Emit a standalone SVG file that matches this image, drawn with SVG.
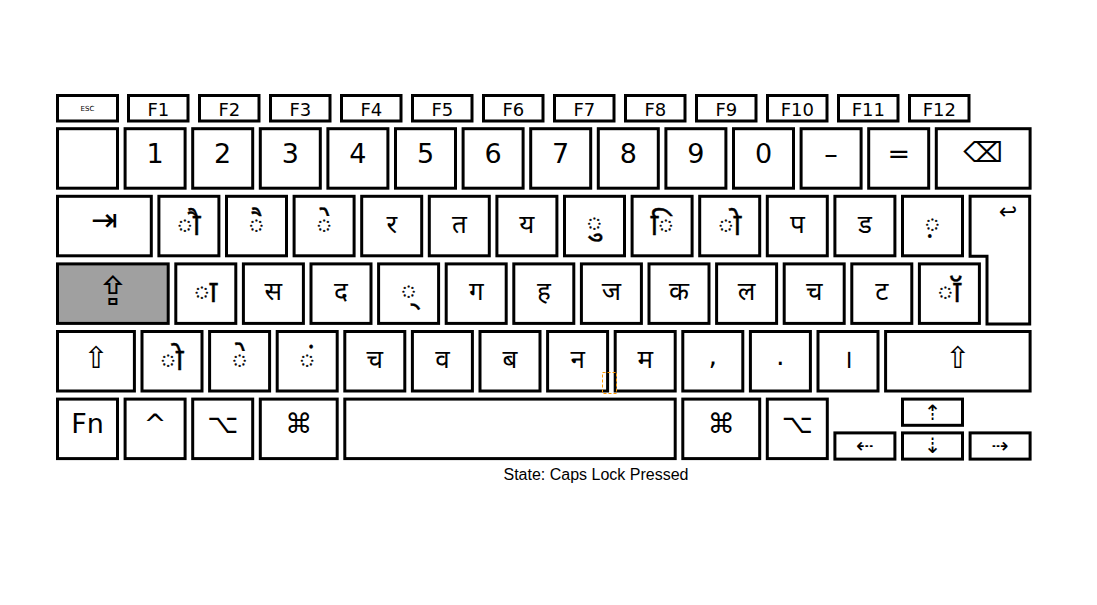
<svg xmlns="http://www.w3.org/2000/svg" width="1097" height="605" viewBox="0 0 1097 605">
<style>
.k{fill:#fff;stroke:#000;stroke-width:3}
.caps{fill:#a0a0a0}
.l{font-family:"DejaVu Sans",sans-serif;font-size:27px;text-anchor:middle;fill:#000}
.f{font-family:"DejaVu Sans",sans-serif;font-size:18px;text-anchor:middle;fill:#000}
.d{font-family:"Noto Sans Devanagari","Lohit Devanagari","FreeSans","DejaVu Sans",sans-serif;font-size:26px;text-anchor:middle;fill:#000}
.m{font-family:"Noto Sans Devanagari","Lohit Devanagari","FreeSans","DejaVu Sans",sans-serif;font-size:30px;text-anchor:middle;fill:#000;stroke:#000;stroke-width:0.4}
.i{font-family:"DejaVu Sans",sans-serif;font-size:30px;text-anchor:middle;fill:#000}
.a{font-family:"DejaVu Sans",sans-serif;font-size:21px;text-anchor:middle;fill:#000}
.s{font-family:"Liberation Sans",Arial,sans-serif;font-size:16px;text-anchor:middle;fill:#000}
</style>
<rect width="1097" height="605" fill="#fff"/>
<g id="fnrow">
<g id="k-esc"><rect class="k" x="57.5" y="95.5" width="60" height="25.5"/><text x="87.5" y="111" style="font-family:'DejaVu Sans',sans-serif;font-size:7px;text-anchor:middle">ESC</text></g>
<g id="k-f1"><rect class="k" x="128.5" y="95.5" width="59.5" height="25.5"/><text class="f" x="158.3" y="116">F1</text></g>
<g id="k-f2"><rect class="k" x="199.5" y="95.5" width="59.5" height="25.5"/><text class="f" x="229.3" y="116">F2</text></g>
<g id="k-f3"><rect class="k" x="270.5" y="95.5" width="59.5" height="25.5"/><text class="f" x="300.3" y="116">F3</text></g>
<g id="k-f4"><rect class="k" x="341.5" y="95.5" width="59.5" height="25.5"/><text class="f" x="371.3" y="116">F4</text></g>
<g id="k-f5"><rect class="k" x="412.5" y="95.5" width="59.5" height="25.5"/><text class="f" x="442.3" y="116">F5</text></g>
<g id="k-f6"><rect class="k" x="483.5" y="95.5" width="59.5" height="25.5"/><text class="f" x="513.3" y="116">F6</text></g>
<g id="k-f7"><rect class="k" x="554.5" y="95.5" width="59.5" height="25.5"/><text class="f" x="584.3" y="116">F7</text></g>
<g id="k-f8"><rect class="k" x="625.5" y="95.5" width="59.5" height="25.5"/><text class="f" x="655.3" y="116">F8</text></g>
<g id="k-f9"><rect class="k" x="696.5" y="95.5" width="59.5" height="25.5"/><text class="f" x="726.3" y="116">F9</text></g>
<g id="k-f10"><rect class="k" x="767.5" y="95.5" width="59.5" height="25.5"/><text class="f" x="797.3" y="116">F10</text></g>
<g id="k-f11"><rect class="k" x="838.5" y="95.5" width="59.5" height="25.5"/><text class="f" x="868.3" y="116">F11</text></g>
<g id="k-f12"><rect class="k" x="909.5" y="95.5" width="59.5" height="25.5"/><text class="f" x="939.3" y="116">F12</text></g>
</g>
<g id="row1">
<g id="k-grave"><rect class="k" x="57.5" y="128.7" width="60" height="59.5"/></g>
<g id="k-1"><rect class="k" x="125.1" y="128.7" width="60" height="59.5"/><text class="l" x="155.1" y="163">1</text></g>
<g id="k-2"><rect class="k" x="192.7" y="128.7" width="60" height="59.5"/><text class="l" x="222.7" y="163">2</text></g>
<g id="k-3"><rect class="k" x="260.3" y="128.7" width="60" height="59.5"/><text class="l" x="290.3" y="163">3</text></g>
<g id="k-4"><rect class="k" x="327.9" y="128.7" width="60" height="59.5"/><text class="l" x="357.9" y="163">4</text></g>
<g id="k-5"><rect class="k" x="395.5" y="128.7" width="60" height="59.5"/><text class="l" x="425.5" y="163">5</text></g>
<g id="k-6"><rect class="k" x="463.1" y="128.7" width="60" height="59.5"/><text class="l" x="493.1" y="163">6</text></g>
<g id="k-7"><rect class="k" x="530.7" y="128.7" width="60" height="59.5"/><text class="l" x="560.7" y="163">7</text></g>
<g id="k-8"><rect class="k" x="598.3" y="128.7" width="60" height="59.5"/><text class="l" x="628.3" y="163">8</text></g>
<g id="k-9"><rect class="k" x="665.9" y="128.7" width="60" height="59.5"/><text class="l" x="695.9" y="163">9</text></g>
<g id="k-0"><rect class="k" x="733.5" y="128.7" width="60" height="59.5"/><text class="l" x="763.5" y="163">0</text></g>
<g id="k-minus"><rect class="k" x="801.1" y="128.7" width="60" height="59.5"/><text class="l" x="831.1" y="163">–</text></g>
<g id="k-equal"><rect class="k" x="868.7" y="128.7" width="60" height="59.5"/><text class="l" x="898.7" y="163">=</text></g>
<g id="k-bksp"><rect class="k" x="936.3" y="128.7" width="93.8" height="59.5"/><text class="i" x="983.2" y="162" style="font-size:28px">⌫</text></g>
</g>
<g id="row2">
<g id="k-tab"><rect class="k" x="57.5" y="196.3" width="93.8" height="59.5"/><text class="i" x="104.4" y="231" style="font-size:32px">⇥</text></g>
<g id="k-q"><rect class="k" x="158.9" y="196.3" width="60" height="59.5"/><text class="m" x="188.9" y="235">ौ</text></g>
<g id="k-w"><rect class="k" x="226.5" y="196.3" width="60" height="59.5"/><text class="m" x="256.5" y="235">ै</text></g>
<g id="k-e"><rect class="k" x="294.1" y="196.3" width="60" height="59.5"/><text class="m" x="324.1" y="235">े</text></g>
<g id="k-r"><rect class="k" x="361.7" y="196.3" width="60" height="59.5"/><text class="d" x="391.7" y="233">र</text></g>
<g id="k-t"><rect class="k" x="429.3" y="196.3" width="60" height="59.5"/><text class="d" x="459.3" y="233">त</text></g>
<g id="k-y"><rect class="k" x="496.9" y="196.3" width="60" height="59.5"/><text class="d" x="526.9" y="233">य</text></g>
<g id="k-u"><rect class="k" x="564.5" y="196.3" width="60" height="59.5"/><text class="m" x="594.5" y="233">ु</text></g>
<g id="k-i"><rect class="k" x="632.1" y="196.3" width="60" height="59.5"/><text class="m" x="662.1" y="235">ि</text></g>
<g id="k-o"><rect class="k" x="699.7" y="196.3" width="60" height="59.5"/><text class="m" x="729.7" y="235">ो</text></g>
<g id="k-p"><rect class="k" x="767.3" y="196.3" width="60" height="59.5"/><text class="d" x="797.3" y="233">प</text></g>
<g id="k-lbr"><rect class="k" x="834.9" y="196.3" width="60" height="59.5"/><text class="d" x="864.9" y="233">ड</text></g>
<g id="k-rbr"><rect class="k" x="902.5" y="196.3" width="60" height="59.5"/><text class="m" x="932.5" y="234">़</text></g>
<g id="k-enter"><path class="k" d="M970.1,196.3 H1029.7 V323.9 H987 V256.3 H970.1 Z"/><text x="1008" y="219" style="font-family:'DejaVu Sans',sans-serif;font-size:22px;text-anchor:middle">↩</text></g>
</g>
<g id="row3">
<g id="k-caps"><rect class="k caps" x="57.5" y="263.9" width="110.7" height="59.5"/><text class="i" x="112.9" y="305" style="font-size:40px">⇪</text></g>
<g id="k-a"><rect class="k" x="175.8" y="263.9" width="60" height="59.5"/><text class="m" x="205.8" y="302">ा</text></g>
<g id="k-s"><rect class="k" x="243.4" y="263.9" width="60" height="59.5"/><text class="d" x="273.4" y="300">स</text></g>
<g id="k-d"><rect class="k" x="311" y="263.9" width="60" height="59.5"/><text class="d" x="341" y="300">द</text></g>
<g id="k-f"><rect class="k" x="378.6" y="263.9" width="60" height="59.5"/><text class="m" x="408.6" y="301">्</text></g>
<g id="k-g"><rect class="k" x="446.2" y="263.9" width="60" height="59.5"/><text class="d" x="476.2" y="300">ग</text></g>
<g id="k-h"><rect class="k" x="513.8" y="263.9" width="60" height="59.5"/><text class="d" x="543.8" y="300">ह</text></g>
<g id="k-j"><rect class="k" x="581.4" y="263.9" width="60" height="59.5"/><text class="d" x="611.4" y="300">ज</text></g>
<g id="k-k"><rect class="k" x="649" y="263.9" width="60" height="59.5"/><text class="d" x="679" y="300">क</text></g>
<g id="k-l"><rect class="k" x="716.6" y="263.9" width="60" height="59.5"/><text class="d" x="746.6" y="300">ल</text></g>
<g id="k-semi"><rect class="k" x="784.2" y="263.9" width="60" height="59.5"/><text class="d" x="814.2" y="300">च</text></g>
<g id="k-quote"><rect class="k" x="851.8" y="263.9" width="60" height="59.5"/><text class="d" x="881.8" y="300">ट</text></g>
<g id="k-bslash"><rect class="k" x="919.4" y="263.9" width="60" height="59.5"/><text class="m" x="949.4" y="302">ॉ</text></g>
</g>
<g id="row4">
<g id="k-lshift"><rect class="k" x="57.5" y="331.5" width="76.9" height="59.5"/><text class="i" x="96" y="368">⇧</text></g>
<g id="k-oem102"><rect class="k" x="142" y="331.5" width="60" height="59.5"/><text class="m" x="172" y="370">ो</text></g>
<g id="k-z"><rect class="k" x="209.6" y="331.5" width="60" height="59.5"/><text class="m" x="239.6" y="370">े</text></g>
<g id="k-x"><rect class="k" x="277.2" y="331.5" width="60" height="59.5"/><text class="m" x="307.2" y="370">ं</text></g>
<g id="k-c"><rect class="k" x="344.8" y="331.5" width="60" height="59.5"/><text class="d" x="374.8" y="368">च</text></g>
<g id="k-v"><rect class="k" x="412.4" y="331.5" width="60" height="59.5"/><text class="d" x="442.4" y="368">व</text></g>
<g id="k-b"><rect class="k" x="480" y="331.5" width="60" height="59.5"/><text class="d" x="510" y="368">ब</text></g>
<g id="k-n"><rect class="k" x="547.6" y="331.5" width="60" height="59.5"/><text class="d" x="577.6" y="368">न</text></g>
<g id="k-m"><rect class="k" x="615.2" y="331.5" width="60" height="59.5"/><text class="d" x="645.2" y="368">म</text></g>
<g id="k-comma"><rect class="k" x="682.8" y="331.5" width="60" height="59.5"/><text class="l" x="712.8" y="365">,</text></g>
<g id="k-period"><rect class="k" x="750.4" y="331.5" width="60" height="59.5"/><text class="l" x="780.4" y="365">.</text></g>
<g id="k-slash"><rect class="k" x="818" y="331.5" width="60" height="59.5"/><text class="d" x="848" y="368">।</text></g>
<g id="k-rshift"><rect class="k" x="885.6" y="331.5" width="144.5" height="59.5"/><text class="i" x="957.9" y="368">⇧</text></g>
<rect x="602.5" y="372.5" width="14" height="21" fill="none" stroke="#f90" stroke-width="1" stroke-dasharray="3,2"/>
</g>
<g id="row5">
<g id="k-fn"><rect class="k" x="57.5" y="399.1" width="60" height="59.5"/><text class="l" x="87.5" y="433">Fn</text></g>
<g id="k-ctrl"><rect class="k" x="125.1" y="399.1" width="60" height="59.5"/><text class="l" x="155.1" y="433">^</text></g>
<g id="k-lalt"><rect class="k" x="192.7" y="399.1" width="60" height="59.5"/><text class="l" x="222.7" y="433">⌥</text></g>
<g id="k-lcmd"><rect class="k" x="260.3" y="399.1" width="76.9" height="59.5"/><text class="l" x="298.8" y="433">⌘</text></g>
<g id="k-space"><rect class="k" x="344.8" y="399.1" width="330.4" height="59.5"/></g>
<g id="k-rcmd"><rect class="k" x="682.8" y="399.1" width="76.9" height="59.5"/><text class="l" x="721.3" y="433">⌘</text></g>
<g id="k-ralt"><rect class="k" x="767.3" y="399.1" width="60" height="59.5"/><text class="l" x="797.3" y="433">⌥</text></g>
<g id="k-left"><rect class="k" x="834.9" y="432.9" width="60" height="26.2"/><text class="a" x="864.9" y="453">⇠</text></g>
<g id="k-up"><rect class="k" x="902.5" y="399.1" width="60" height="26.2"/><text class="a" x="932.5" y="420">⇡</text></g>
<g id="k-down"><rect class="k" x="902.5" y="432.9" width="60" height="26.2"/><text class="a" x="932.5" y="453">⇣</text></g>
<g id="k-right"><rect class="k" x="970.1" y="432.9" width="60" height="26.2"/><text class="a" x="1000.1" y="453">⇢</text></g>
</g>
<g id="connectors"/>
<text class="s" x="596" y="480">State: Caps Lock Pressed</text>
</svg>
